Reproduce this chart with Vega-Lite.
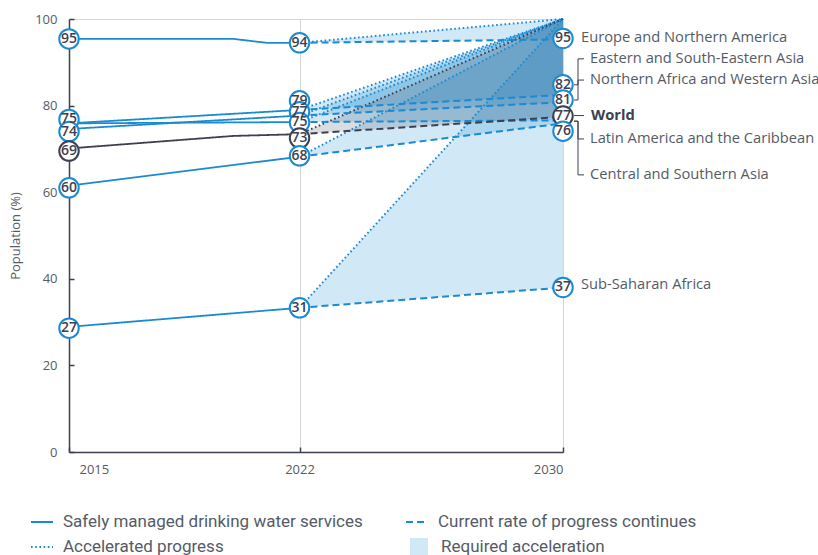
{
  "$schema": "https://vega.github.io/schema/vega-lite/v6.json",
  "width": 494,
  "height": 433,
  "autosize": {"type": "none"},
  "padding": {"left": 69, "top": 19, "right": 255, "bottom": 103},
  "background": "white",
  "config": {
    "view": {"stroke": "#d6d6d6", "strokeWidth": 1},
    "font": "Open Sans"
  },
  "datasets": {
    "hist": [
      {"series": "Europe and Northern America", "year": 2015, "value": 95.4},
      {"series": "Europe and Northern America", "year": 2020, "value": 95.4},
      {"series": "Europe and Northern America", "year": 2021, "value": 94.5},
      {"series": "Europe and Northern America", "year": 2022, "value": 94.5},
      {"series": "Eastern and South-Eastern Asia", "year": 2015, "value": 75.9},
      {"series": "Eastern and South-Eastern Asia", "year": 2022, "value": 79.0},
      {"series": "Northern Africa and Western Asia", "year": 2015, "value": 74.6},
      {"series": "Northern Africa and Western Asia", "year": 2022, "value": 77.7},
      {"series": "Latin America and the Caribbean", "year": 2015, "value": 75.9},
      {"series": "Latin America and the Caribbean", "year": 2022, "value": 76.2},
      {"series": "World", "year": 2015, "value": 70.1},
      {"series": "World", "year": 2020, "value": 73.0},
      {"series": "World", "year": 2022, "value": 73.4},
      {"series": "Central and Southern Asia", "year": 2015, "value": 61.5},
      {"series": "Central and Southern Asia", "year": 2022, "value": 68.2},
      {"series": "Sub-Saharan Africa", "year": 2015, "value": 28.9},
      {"series": "Sub-Saharan Africa", "year": 2022, "value": 33.3}
    ],
    "proj": [
      {"series": "Europe and Northern America", "year": 2022, "current": 94.5, "accel": 94.5},
      {"series": "Europe and Northern America", "year": 2030, "current": 95.3, "accel": 100},
      {"series": "Eastern and South-Eastern Asia", "year": 2022, "current": 79.0, "accel": 79.0},
      {"series": "Eastern and South-Eastern Asia", "year": 2030, "current": 82.5, "accel": 100},
      {"series": "Northern Africa and Western Asia", "year": 2022, "current": 77.7, "accel": 77.7},
      {"series": "Northern Africa and Western Asia", "year": 2030, "current": 80.8, "accel": 100},
      {"series": "Latin America and the Caribbean", "year": 2022, "current": 76.2, "accel": 76.2},
      {"series": "Latin America and the Caribbean", "year": 2030, "current": 76.6, "accel": 100},
      {"series": "World", "year": 2022, "current": 73.4, "accel": 73.4},
      {"series": "World", "year": 2030, "current": 77.4, "accel": 100},
      {"series": "Central and Southern Asia", "year": 2022, "current": 68.2, "accel": 68.2},
      {"series": "Central and Southern Asia", "year": 2030, "current": 75.9, "accel": 100},
      {"series": "Sub-Saharan Africa", "year": 2022, "current": 33.3, "accel": 33.3},
      {"series": "Sub-Saharan Africa", "year": 2030, "current": 38.0, "accel": 100}
    ],
    "circles": [
      {"series": "Europe and Northern America", "year": 2015, "pos": 95.4, "label": "95"},
      {"series": "Eastern and South-Eastern Asia", "year": 2015, "pos": 76.8, "label": "75"},
      {"series": "Northern Africa and Western Asia", "year": 2015, "pos": 74.0, "label": "74"},
      {"series": "World", "year": 2015, "pos": 69.5, "label": "69"},
      {"series": "Central and Southern Asia", "year": 2015, "pos": 61.0, "label": "60"},
      {"series": "Sub-Saharan Africa", "year": 2015, "pos": 28.6, "label": "27"},
      {"series": "Europe and Northern America", "year": 2022, "pos": 94.5, "label": "94"},
      {"series": "Eastern and South-Eastern Asia", "year": 2022, "pos": 81.1, "label": "79"},
      {"series": "Northern Africa and Western Asia", "year": 2022, "pos": 78.6, "label": "77"},
      {"series": "Latin America and the Caribbean", "year": 2022, "pos": 76.1, "label": "75"},
      {"series": "World", "year": 2022, "pos": 72.5, "label": "73"},
      {"series": "Central and Southern Asia", "year": 2022, "pos": 68.4, "label": "68"},
      {"series": "Sub-Saharan Africa", "year": 2022, "pos": 33.3, "label": "31"},
      {"series": "Europe and Northern America", "year": 2030, "pos": 95.5, "label": "95"},
      {"series": "Eastern and South-Eastern Asia", "year": 2030, "pos": 84.8, "label": "82"},
      {"series": "Northern Africa and Western Asia", "year": 2030, "pos": 81.3, "label": "81"},
      {"series": "World", "year": 2030, "pos": 77.6, "label": "77"},
      {"series": "Central and Southern Asia", "year": 2030, "pos": 74.1, "label": "76"},
      {"series": "Sub-Saharan Africa", "year": 2030, "pos": 38.0, "label": "37"}
    ],
    "labels": [
      {"name": "Europe and Northern America", "pos": 95.7, "style": "plain"},
      {"name": "Eastern and South-Eastern Asia", "pos": 90.8, "style": "bracket"},
      {"name": "Northern Africa and Western Asia", "pos": 85.9, "style": "bracket"},
      {"name": "World", "pos": 77.7, "style": "world"},
      {"name": "Latin America and the Caribbean", "pos": 72.3, "style": "bracket"},
      {"name": "Central and Southern Asia", "pos": 64.0, "style": "bracket"},
      {"name": "Sub-Saharan Africa", "pos": 38.6, "style": "plain"}
    ],
    "brackets": [
      {"name": "Eastern and South-Eastern Asia", "from": 84.8, "to": 90.8},
      {"name": "Northern Africa and Western Asia", "from": 81.3, "to": 85.9},
      {"name": "World", "from": 77.7, "to": 77.7},
      {"name": "Latin America and the Caribbean", "from": 76.4, "to": 72.3},
      {"name": "Central and Southern Asia", "from": 76.4, "to": 64.0}
    ]
  },
  "layer": [
    {
      "data": {"name": "proj"},
      "transform": [{"filter": "datum.series !== 'World'"}],
      "mark": {"type": "area", "opacity": 0.2},
      "encoding": {
        "x": {"field": "year", "type": "quantitative", "scale": {"domain": [2015, 2030], "nice": false, "zero": false},
          "axis": {"values": [2015, 2022, 2030], "format": "d", "title": null, "grid": true, "gridColor": "#d6d6d6",
            "domainColor": "#3d4050", "domainWidth": 1.5, "tickColor": "#3d4050", "tickWidth": 1.5, "tickSize": -5,
            "labelPadding": 16, "labelFontSize": 13, "labelColor": "#555b66", "labelFont": "Open Sans",
            "labelOffset": {"condition": {"test": "datum.value === 2015", "value": 10}, "value": 0}}},
        "y": {"field": "accel", "type": "quantitative", "title": "Population (%)", "scale": {"domain": [0, 100], "nice": false},
          "axis": {"values": [0, 20, 40, 60, 80, 100], "grid": false, "domainColor": "#3d4050", "domainWidth": 1.5,
            "tickColor": "#3d4050", "tickWidth": 1.5, "tickSize": -5, "labelPadding": 17, "labelFontSize": 13,
            "labelColor": "#555b66", "labelFont": "Open Sans", "titleColor": "#555b66", "titleFontSize": 13,
            "titleFontWeight": "normal", "titleFont": "Open Sans", "titlePadding": 12}},
        "y2": {"field": "current"},
        "detail": {"field": "series"},
        "color": {"datum": "Required acceleration", "scale": {"domain": ["Required acceleration"], "range": ["#1a8ad4"]},
          "legend": {"orient": "none", "legendX": 341, "legendY": 519, "title": null, "symbolType": "square",
            "symbolSize": 324, "symbolStrokeWidth": 0, "labelFontSize": 17, "labelFont": "Roboto", "labelColor": "#555b66",
            "labelOffset": 13, "labelLimit": 400}}
      }
    },
    {
      "data": {"name": "proj"},
      "transform": [{"filter": "datum.series === 'World'"}],
      "mark": {"type": "area", "opacity": 0.2, "color": "#4a4f5e"},
      "encoding": {
        "x": {"field": "year", "type": "quantitative"},
        "y": {"field": "accel", "type": "quantitative", "title": "Population (%)"},
        "y2": {"field": "current"}
      }
    },
    {
      "data": {"name": "proj"},
      "mark": {"type": "line", "strokeWidth": 2},
      "encoding": {
        "x": {"field": "year", "type": "quantitative"},
        "y": {"field": "accel", "type": "quantitative", "title": "Population (%)"},
        "detail": {"field": "series"},
        "color": {"condition": {"test": "datum.series === 'World'", "value": "#3d4050"}, "value": "#1a8ad4"},
        "strokeDash": {"datum": "Accelerated progress",
          "scale": {"domain": ["Safely managed drinking water services", "Accelerated progress", "Current rate of progress continues"],
            "range": [[1, 0], [1.6, 2.6], [7, 4]]},
          "legend": {"orient": "none", "legendX": -39, "legendY": 491, "columns": 2, "title": null,
            "symbolSize": 484, "symbolStrokeWidth": 2, "symbolStrokeColor": "#1a8ad4", "labelFontSize": 17, "labelFont": "Roboto", "labelColor": "#555b66",
            "columnPadding": 39, "rowPadding": 5, "labelOffset": 9, "labelLimit": 400}
        }
      }
    },
    {
      "data": {"name": "proj"},
      "mark": {"type": "line", "strokeWidth": 2},
      "encoding": {
        "x": {"field": "year", "type": "quantitative"},
        "y": {"field": "current", "type": "quantitative", "title": "Population (%)"},
        "detail": {"field": "series"},
        "color": {"condition": {"test": "datum.series === 'World'", "value": "#3d4050"}, "value": "#1a8ad4"},
        "strokeDash": {"datum": "Current rate of progress continues"}
      }
    },
    {
      "data": {"name": "hist"},
      "mark": {"type": "line", "strokeWidth": 1.8},
      "encoding": {
        "x": {"field": "year", "type": "quantitative"},
        "y": {"field": "value", "type": "quantitative", "title": "Population (%)"},
        "detail": {"field": "series"},
        "color": {"condition": {"test": "datum.series === 'World'", "value": "#3d4050"}, "value": "#1a8ad4"},
        "strokeDash": {"datum": "Safely managed drinking water services"}
      }
    },
    {
      "data": {"name": "brackets"},
      "mark": {"type": "rule", "xOffset": 15, "color": "#3d4050", "strokeWidth": 1},
      "encoding": {
        "x": {"datum": 2030, "type": "quantitative"},
        "y": {"field": "from", "type": "quantitative", "title": "Population (%)"},
        "y2": {"field": "to"}
      }
    },
    {
      "data": {"name": "brackets"},
      "mark": {"type": "rule", "xOffset": 15, "x2Offset": 21, "color": "#3d4050", "strokeWidth": 1},
      "encoding": {
        "x": {"datum": 2030, "type": "quantitative"},
        "x2": {"datum": 2030},
        "y": {"field": "to", "type": "quantitative", "title": "Population (%)"}
      }
    },
    {
      "data": {"name": "brackets"},
      "mark": {"type": "rule", "xOffset": 11, "x2Offset": 15, "color": "#3d4050", "strokeWidth": 1},
      "encoding": {
        "x": {"datum": 2030, "type": "quantitative"},
        "x2": {"datum": 2030},
        "y": {"field": "from", "type": "quantitative", "title": "Population (%)"}
      }
    },
    {
      "data": {"name": "circles"},
      "mark": {"type": "point", "shape": "circle", "size": 380, "fill": "white", "fillOpacity": 1, "strokeWidth": 2, "opacity": 1},
      "encoding": {
        "x": {"field": "year", "type": "quantitative"},
        "y": {"field": "pos", "type": "quantitative", "title": "Population (%)"},
        "order": {"field": "pos", "sort": "descending"},
        "stroke": {"condition": {"test": "datum.series === 'World'", "value": "#3d4050"}, "value": "#1a8ad4"}
      }
    },
    {
      "data": {"name": "circles"},
      "mark": {"type": "text", "fontSize": 14, "fontWeight": 600, "color": "#3d4050", "font": "Open Sans", "baseline": "middle", "align": "center"},
      "encoding": {
        "x": {"field": "year", "type": "quantitative"},
        "y": {"field": "pos", "type": "quantitative", "title": "Population (%)"},
        "text": {"field": "label"}
      }
    },
    {
      "data": {"name": "labels"},
      "transform": [{"filter": "datum.style === 'plain'"}],
      "mark": {"type": "text", "fontSize": 14.7, "color": "#555b66", "font": "Open Sans", "align": "left", "baseline": "middle", "dx": 18},
      "encoding": {
        "x": {"datum": 2030, "type": "quantitative"},
        "y": {"field": "pos", "type": "quantitative", "title": "Population (%)"},
        "text": {"field": "name"}
      }
    },
    {
      "data": {"name": "labels"},
      "transform": [{"filter": "datum.style === 'bracket'"}],
      "mark": {"type": "text", "fontSize": 14.7, "color": "#555b66", "font": "Open Sans", "align": "left", "baseline": "middle", "dx": 27},
      "encoding": {
        "x": {"datum": 2030, "type": "quantitative"},
        "y": {"field": "pos", "type": "quantitative", "title": "Population (%)"},
        "text": {"field": "name"}
      }
    },
    {
      "data": {"name": "labels"},
      "transform": [{"filter": "datum.style === 'world'"}],
      "mark": {"type": "text", "fontSize": 14.7, "fontWeight": "bold", "color": "#3d4050", "font": "Open Sans", "align": "left", "baseline": "middle", "dx": 28},
      "encoding": {
        "x": {"datum": 2030, "type": "quantitative"},
        "y": {"field": "pos", "type": "quantitative", "title": "Population (%)"},
        "text": {"field": "name"}
      }
    }
  ]
}
